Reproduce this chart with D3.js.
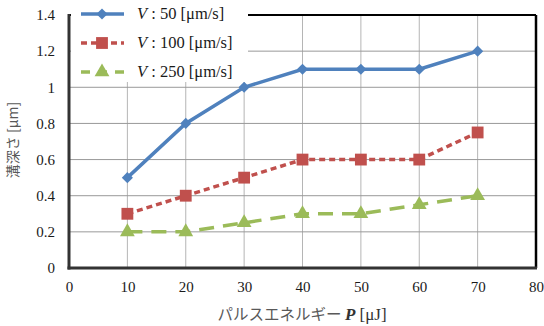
<!DOCTYPE html>
<html>
<head>
<meta charset="utf-8">
<script src="https://cdn.jsdelivr.net/npm/d3@7"></script>
<style>
  body { margin: 0; background: #fff; }
  svg text { font-family: "Liberation Serif", "DejaVu Serif", serif; }
</style>
</head>
<body>
<div class="container"></div>
<script>
var energies = [10, 20, 30, 40, 50, 60, 70];
var depthV50 = [0.5, 0.8, 1.0, 1.1, 1.1, 1.1, 1.2];
var depthV100 = [0.3, 0.4, 0.5, 0.6, 0.6, 0.6, 0.75];
var depthV250 = [0.2, 0.2, 0.25, 0.3, 0.3, 0.35, 0.4];
var seriesNames = ['50', '100', '250'];
var xTicks = [0, 10, 20, 30, 40, 50, 60, 70, 80];
var yTicks = [0, 0.2, 0.4, 0.6, 0.8, 1, 1.2, 1.4];

const WIDTH = 544, HEIGHT = 326;
const LEFT = 69, RIGHT = 536, TOP = 15, BOTTOM = 268;
const SERIF = '"Liberation Serif", "DejaVu Serif", serif';
const CJK = '"Noto Sans CJK JP", sans-serif';

var svg = d3.select('.container').append('svg')
    .attr('width', WIDTH).attr('height', HEIGHT);

var xScale = d3.scaleLinear().domain([0, 80]).range([LEFT, RIGHT]);
var yScale = d3.scaleLinear().domain([0, 1.4]).range([BOTTOM, TOP]);

// grid
svg.append('g').selectAll('line').data(xTicks.slice(1, -1)).enter()
    .append('line')
    .attr('x1', d => xScale(d)).attr('x2', d => xScale(d))
    .attr('y1', TOP).attr('y2', BOTTOM)
    .style('stroke', '#b5b5b5').style('stroke-width', 1);
svg.append('g').selectAll('line').data(yTicks.slice(1)).enter()
    .append('line')
    .attr('x1', LEFT).attr('x2', RIGHT)
    .attr('y1', d => yScale(d)).attr('y2', d => yScale(d))
    .style('stroke', '#999').style('stroke-width', 1);

// frame
svg.append('line').attr('x1', LEFT).attr('x2', RIGHT).attr('y1', TOP).attr('y2', TOP)
    .style('stroke', '#000').style('stroke-width', 2);
svg.append('line').attr('x1', RIGHT).attr('x2', RIGHT).attr('y1', TOP).attr('y2', BOTTOM)
    .style('stroke', '#000').style('stroke-width', 2.5);

// tick labels via axes
var xAxis = svg.append('g').attr('transform', 'translate(0,' + BOTTOM + ')')
    .call(d3.axisBottom(xScale).tickValues(xTicks).tickSize(0).tickPadding(13));
var yAxis = svg.append('g').attr('transform', 'translate(' + LEFT + ',0)')
    .call(d3.axisLeft(yScale).tickValues(yTicks).tickSize(0).tickPadding(14).tickFormat(d3.format('~g')));
[xAxis, yAxis].forEach(function (a) {
    a.attr('font-family', SERIF).attr('font-size', 15);
    a.select('.domain').remove();
    a.selectAll('text').attr('font-family', SERIF).style('font-family', SERIF)
        .style('font-size', '15px').style('fill', '#1a1a1a');
});

var series = [
    {name: seriesNames[0], values: depthV50, color: '#4F81BD', dash: null, marker: 'diamond'},
    {name: seriesNames[1], values: depthV100, color: '#C0504D', dash: '6,4', marker: 'square'},
    {name: seriesNames[2], values: depthV250, color: '#9BBB59', dash: '15,9', marker: 'triangle'}
];

var markerPath = function (m) {
    if (m == 'diamond') return d3.symbol().type(d3.symbolSquare).size(62)();
    if (m == 'square') return d3.symbol().type(d3.symbolSquare).size(140)();
    return d3.symbol().type(d3.symbolTriangle).size(95)();
};
var markerRotate = function (m) { return m == 'diamond' ? ' rotate(45)' : ''; };

var line = d3.line().x(function (d, i) { return xScale(energies[i]); }).y(function (d) { return yScale(d); });

series.forEach(function (s) {
    var g = svg.append('g');
    g.append('path').datum(s.values).attr('d', line)
        .style('fill', 'none').style('stroke', s.color).style('stroke-width', 3.5)
        .style('stroke-dasharray', s.dash);
    g.selectAll('path.mk').data(s.values).enter().append('path')
        .attr('d', markerPath(s.marker))
        .attr('transform', function (d, i) { return 'translate(' + xScale(energies[i]) + ',' + yScale(d) + ')' + markerRotate(s.marker); })
        .style('fill', s.color);
});

// axis lines (left and bottom, dark and thick)
svg.append('line').attr('x1', LEFT).attr('x2', LEFT).attr('y1', TOP - 1).attr('y2', BOTTOM + 1.5)
    .style('stroke', '#333').style('stroke-width', 3);
svg.append('line').attr('x1', LEFT - 1.5).attr('x2', RIGHT + 1).attr('y1', BOTTOM).attr('y2', BOTTOM)
    .style('stroke', '#333').style('stroke-width', 3);

// legend with white background covering plot corner
var legend = svg.append('g');
legend.append('rect').attr('x', 71).attr('y', 0).attr('width', 177).attr('height', 82).style('fill', '#fff');
series.forEach(function (s, i) {
    var y = 14 + i * 29;
    var row = legend.append('g');
    row.append('line').attr('x1', 81).attr('x2', 124).attr('y1', y).attr('y2', y)
        .style('stroke', s.color).style('stroke-width', 3.5).style('stroke-dasharray', s.dash ? (i == 1 ? '6,4' : '9,8') : null);
    row.append('path').attr('d', markerPath(s.marker))
        .attr('transform', 'translate(102,' + y + ')' + markerRotate(s.marker)).style('fill', s.color);
    var t = row.append('text').attr('x', 137).attr('y', y + 5).style('font-size', '16.5px').style('fill', '#1a1a1a');
    t.append('tspan').style('font-style', 'italic').text('V');
    t.append('tspan').text(' : ' + s.name + ' [μm/s]');
});

// axis titles
svg.append('text').attr('transform', 'translate(18,' + 140 + ') rotate(-90)')
    .attr('text-anchor', 'middle')
    .style('font-family', CJK).style('font-size', '14px').style('fill', '#595959')
    .text('溝深さ [μm]');

var xt = svg.append('text').attr('x', 302).attr('y', 320).attr('text-anchor', 'middle')
    .style('font-size', '17px').style('fill', '#333');
xt.append('tspan').style('font-family', CJK).style('font-size', '15.5px').style('fill', '#595959').text('パルスエネルギー ');
xt.append('tspan').style('font-style', 'italic').style('font-weight', 'bold').text('P');
xt.append('tspan').text(' [μJ]');
</script>
</body>
</html>
